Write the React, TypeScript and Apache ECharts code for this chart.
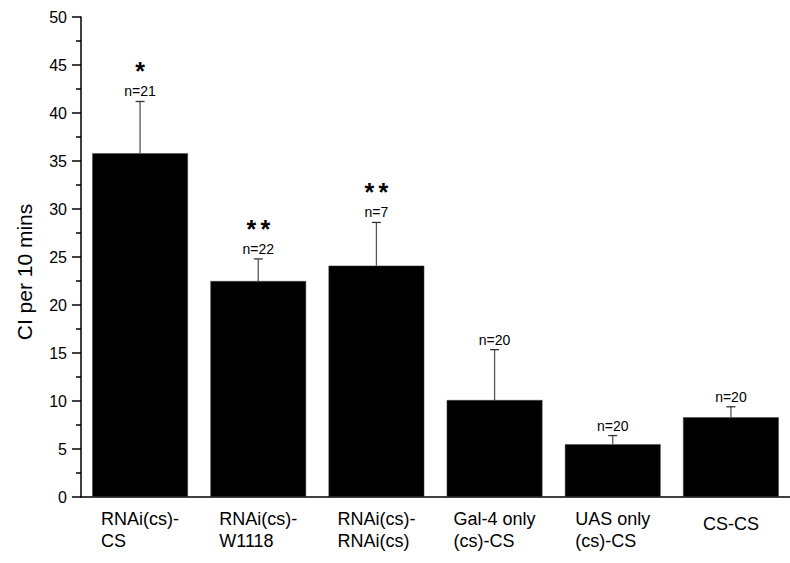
import React, { useEffect, useRef } from "react";
import * as echarts from "echarts";

const categories = [
  "RNAi(cs)-\nCS",
  "RNAi(cs)-\nW1118",
  "RNAi(cs)-\nRNAi(cs)",
  "Gal-4 only\n(cs)-CS",
  "UAS only\n(cs)-CS",
  "CS-CS",
];
const means = [35.8, 22.5, 24.1, 10.1, 5.5, 8.3];
const sems = [5.4, 2.3, 4.5, 5.25, 0.9, 1.1];
const nLabels = ["n=21", "n=22", "n=7", "n=20", "n=20", "n=20"];
const sigLabels = ["*", "**", "**", "", "", ""];
const yTicks = { min: 0, max: 50, interval: 5 };
const yTitle = "CI per 10 mins";

const FONT = "Arial, 'Liberation Sans', Helvetica, sans-serif";

export default function App() {
  const ref = useRef<HTMLDivElement>(null);
  useEffect(() => {
    document.body.style.margin = "0";
    if (!ref.current) return;
    const chart = echarts.init(ref.current, undefined, { renderer: "svg" });
    const errData = categories.map((_, i) => [i, means[i], sems[i]]);
    const option: any = {
      animation: false,
      backgroundColor: "#fff",
      textStyle: { fontFamily: FONT },
      grid: { left: 81, top: 17, width: 713, height: 480 },
      graphic: [
        {
          type: "text",
          x: 24,
          y: 272,
          rotation: Math.PI / 2,
          style: { text: yTitle, fill: "#000", fontSize: 21, fontFamily: FONT, align: "center", verticalAlign: "middle" },
        },
      ],
      xAxis: [
        {
          type: "category",
          data: categories,
          position: "bottom",
          axisLine: { lineStyle: { color: "#000", width: 1.5 } },
          axisTick: { alignWithLabel: true, length: 9, lineStyle: { color: "#000", width: 1.5 } },
          axisLabel: {
            margin: 11,
            color: "#000",
            interval: 0,
            formatter: (v: string) => {
              const lines = v.split("\n");
              if (lines.length === 1) return `{b|${lines[0]}}`;
              return lines.map((l) => `{a|${l}}`).join("\n");
            },
            rich: {
              a: { align: "left", fontSize: 18, lineHeight: 22, color: "#000", fontFamily: FONT },
              b: { fontSize: 18, lineHeight: 32, color: "#000", fontFamily: FONT },
            },
          },
        },
        {
          type: "category",
          data: categories,
          position: "bottom",
          axisLine: { show: false },
          axisTick: { length: 5, lineStyle: { color: "#000", width: 1.5 } },
          axisLabel: { show: false },
        },
      ],
      yAxis: {
        type: "value",
        min: yTicks.min,
        max: yTicks.max,
        interval: yTicks.interval,
        axisLine: { show: true, lineStyle: { color: "#000", width: 1.5 } },
        axisTick: { show: true, length: 9, lineStyle: { color: "#000", width: 1.5 } },
        minorTick: { show: true, splitNumber: 2, length: 5, lineStyle: { color: "#000", width: 1.5 } },
        splitLine: { show: false },
        minorSplitLine: { show: false },
        axisLabel: { fontSize: 16, color: "#000", margin: 14, fontFamily: FONT },
      },
      series: [
        {
          type: "bar",
          data: means,
          barWidth: "81%",
          itemStyle: { color: "#000", borderColor: "#444", borderWidth: 0.5 },
          xAxisIndex: 0,
        },
        {
          type: "custom",
          xAxisIndex: 0,
          z: 5,
          data: errData,
          renderItem: (params: any, api: any) => {
            const i = api.value(0);
            const m = api.value(1);
            const s = api.value(2);
            const base = api.coord([i, m]);
            const top = api.coord([i, m + s]);
            const x = base[0];
            const children: any[] = [
              { type: "line", shape: { x1: x, y1: base[1], x2: x, y2: top[1] }, style: { stroke: "#555", lineWidth: 1.3 } },
              { type: "line", shape: { x1: x - 4.5, y1: top[1], x2: x + 4.5, y2: top[1] }, style: { stroke: "#333", lineWidth: 1.3 } },
              {
                type: "text",
                x: x,
                y: top[1] - 10,
                style: { text: nLabels[i], fill: "#000", fontSize: 14, fontFamily: FONT, align: "center", verticalAlign: "middle" },
              },
            ];
            const sig = sigLabels[i];
            if (sig) {
              const chars = sig.split("");
              chars.forEach((c, k) => {
                const off = (k - (chars.length - 1) / 2) * 14;
                children.push({
                  type: "text",
                  x: x + off,
                  y: top[1] - 30,
                  style: { text: c, fill: "#000", fontSize: 25, fontWeight: "bold", fontFamily: FONT, align: "center", verticalAlign: "middle" },
                });
              });
            }
            return { type: "group", children };
          },
        },
      ],
    };
    chart.setOption(option);
    return () => chart.dispose();
  }, []);
  return <div ref={ref} style={{ width: 790, height: 563 }} />;
}
